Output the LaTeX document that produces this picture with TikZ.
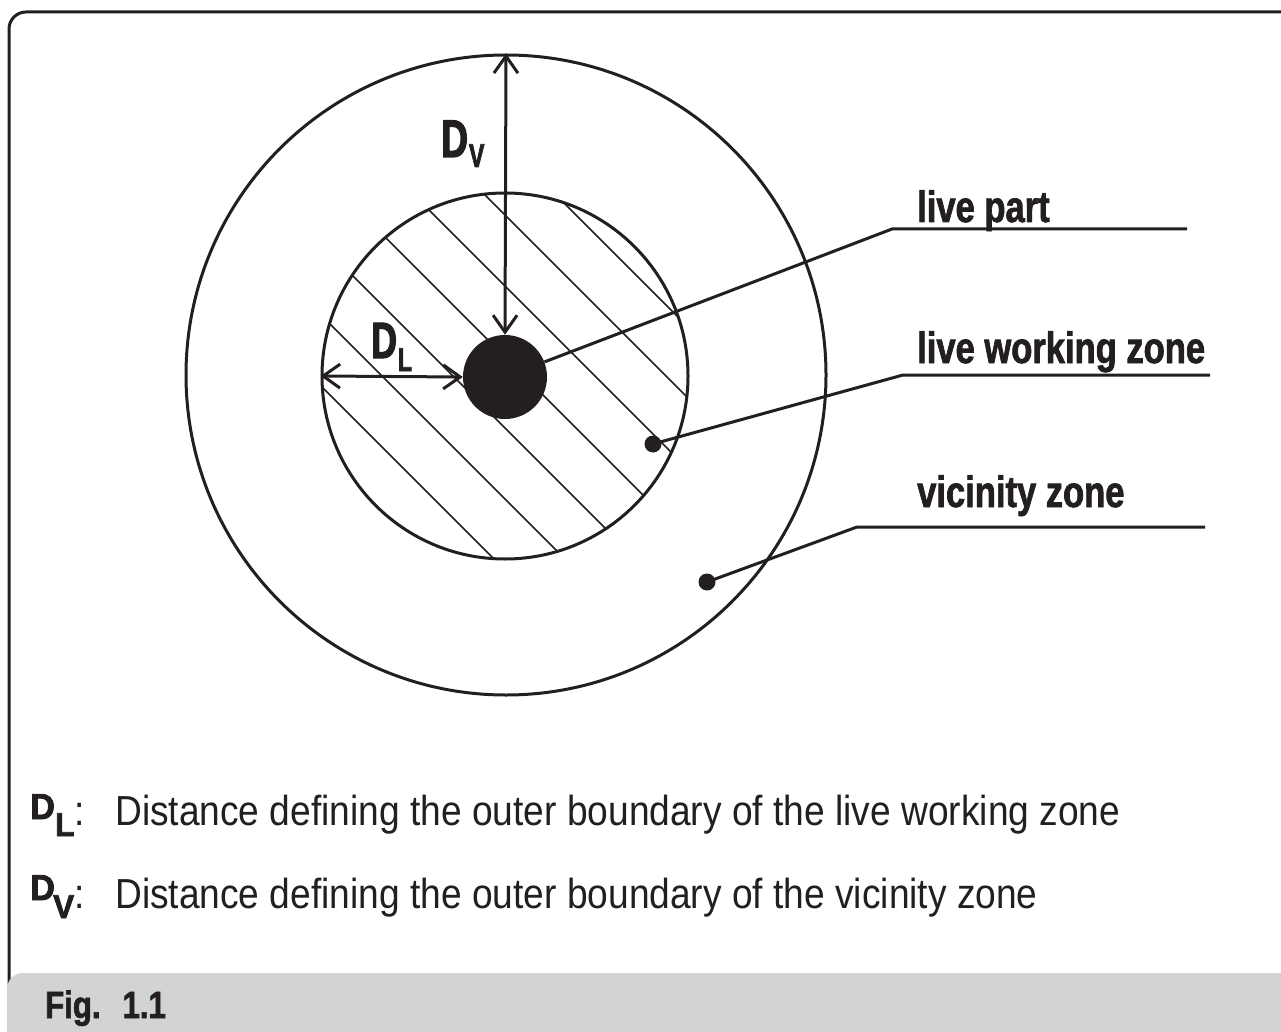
\documentclass[tikz,border=0pt]{standalone}
\usepackage{fontspec}
\setmainfont{Liberation Sans}[FakeStretch=0.884]
\newfontfamily\condb{Liberation Sans Bold}[FakeStretch=0.785, FakeBold=1.6]
\newfontfamily\condbx{Liberation Sans Bold}[FakeStretch=0.70, FakeBold=2.2]
\newfontfamily\legfont{Liberation Sans Bold}[FakeStretch=0.95, FakeBold=2.4]
\newfontfamily\figfont{Liberation Sans Bold}[FakeStretch=0.82, FakeBold=1.6]
\usetikzlibrary{arrows.meta}
\definecolor{ink}{RGB}{35,31,32}
\definecolor{bargray}{RGB}{209,211,212}
\tikzset{
  ln/.style={draw=ink, line width=3pt},
  hatch/.style={draw=ink, line width=1.6pt},
  dim/.style={draw=ink, line width=3pt, {Straight Barb[length=17pt,width=24pt,line width=3pt]}-{Straight Barb[length=17pt,width=24pt,line width=3pt]}},
  smalldot/.style={circle, fill=ink, minimum size=17pt, inner sep=0pt},
  lbl/.style={anchor=base west, inner sep=0pt, text=ink, font=\condb\fontsize{44}{48}\selectfont},
  body/.style={anchor=base west, inner sep=0pt, text=ink, font=\fontsize{42}{48}\selectfont},
  sym/.style={anchor=base west, inner sep=0pt, text=ink},
  legsym/.style={anchor=base west, inner sep=0pt, text=ink, font=\legfont\fontsize{33}{36}\selectfont},
  legbig/.style={anchor=base west, inner sep=0pt, text=ink, font=\legfont\fontsize{36}{38}\selectfont},
}
\begin{document}
\begin{tikzpicture}[x=1pt,y=-1pt]
\useasboundingbox (0,0) rectangle (1281,1032);
% frame
\draw[ln, rounded corners=17pt] (9,985) -- (9,12) -- (1320,12);
\fill[bargray, rounded corners=16pt] (7,1070) -- (7,973) -- (1320,973) -- (1320,1070) -- cycle;
\node[sym, font=\figfont\fontsize{38}{40}\selectfont] (fig) at (45,1018) {Fig.\hspace{22pt}1.1};
% circles
\node[circle, ln, minimum size=640pt, inner sep=0pt] (outer) at (506,375) {};
\node[circle, ln, minimum size=366pt, inner sep=0pt] (inner) at (505,376) {};
\begin{scope}
  \clip (505,376) circle[radius=182pt];
  \foreach \k in {-3,...,3} {
    \pgfmathsetmacro{\c}{148+71*\k}
    \draw[hatch] (\c+100,100) -- (\c+650,650);
  }
\end{scope}
\node[circle, fill=ink, minimum size=84pt, inner sep=0pt] (live) at (505,377) {};
% dimension arrows
\draw[dim] (live.north) -- (outer.north);
\draw[dim] (inner.west) -- (live.west);
\node[sym, font=\condbx\fontsize{53}{56}\selectfont] (dv) at (441,157) {D\hspace{1pt}\raisebox{-10pt}{\fontsize{33}{34}\selectfont V}};
\node[sym, font=\condbx\fontsize{51}{56}\selectfont] (dl) at (371,358) {D\hspace{1pt}\raisebox{-13pt}{\fontsize{33}{34}\selectfont L}};
% leaders
\node[smalldot] (d1) at (653,444) {};
\node[smalldot] (d2) at (707,582) {};
\coordinate (k0) at (892,229); \coordinate (e0) at (1187,229);
\coordinate (k1) at (903,375); \coordinate (e1) at (1210,375);
\coordinate (k2) at (857,527); \coordinate (e2) at (1205,527);
\draw[ln] (live) -- (k0) -- (e0);
\draw[ln] (d1.center) -- (k1) -- (e1);
\draw[ln] (d2.center) -- (k2) -- (e2);
\node[lbl] (t0) at (917,222) {live part};
\node[lbl] (t1) at (917,363) {live working zone};
\node[lbl] (t2) at (917,507) {vicinity zone};
% legend
\node[legbig] (ldlD) at (30,819) {D};
\node[legsym] (ldlL) at (55,836) {L};
\node[body] (ldlc) at (74,825) {:};
\node[legbig] (ldvD) at (30,900) {D};
\node[legsym] (ldvV) at (53,918) {V};
\node[body] (ldvc) at (74,908) {:};
\node[body] (b1) at (115,825) {Distance defining the outer boundary of the live working zone};
\node[body] (b2) at (115,908) {Distance defining the outer boundary of the vicinity zone};
\end{tikzpicture}
\end{document}
